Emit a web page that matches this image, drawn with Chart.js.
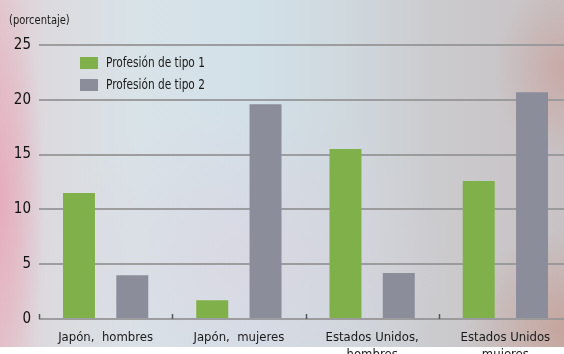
<!DOCTYPE html>
<html>
<head>
<meta charset="utf-8">
<script src="https://cdn.jsdelivr.net/npm/chart.js@4.4.1/dist/chart.umd.min.js"></script>
<style>
  html, body { margin: 0; padding: 0; background: #fff; overflow: hidden; }
  #wrap {
    position: relative;
    width: 564px;
    height: 354px;
    overflow: hidden;
  }
  #bg {
    position: absolute;
    left: 0; top: 0;
    width: 564px; height: 347px;
    background:
      radial-gradient(ellipse 45px 220px at 0px 200px, rgba(232,160,180,0.7), rgba(232,160,180,0) 100%),
      radial-gradient(ellipse 70px 90px at 564px 70px, rgba(200,140,130,0.45), rgba(200,140,130,0) 100%),
      radial-gradient(ellipse 100px 100px at 564px 330px, rgba(195,140,125,0.55), rgba(195,140,125,0) 100%),
      radial-gradient(ellipse 200px 160px at 250px 260px, rgba(225,205,220,0.45), rgba(225,205,220,0) 100%),
      linear-gradient(90deg, #e2c9d0 0%, #dcdade 8%, #d8e3e8 25%, #d2e0e8 45%, #cfd8dd 62%, #cbcacd 78%, #c8c2c4 100%);
  }
  #chart { position: absolute; left: 0; top: 0; }
</style>
</head>
<body>
<div id="wrap">
  <div id="bg"></div>
  <canvas id="chart" width="572" height="354"></canvas>
</div>
<script>
const categories = ['Japón,  hombres', 'Japón,  mujeres', ['Estados Unidos,', 'hombres'], ['Estados Unidos', 'mujeres']];
const seriesNames = ['Profesión de tipo 1', 'Profesión de tipo 2'];
const tipo1 = [11.5, 1.7, 15.5, 12.6];
const tipo2 = [4.0, 19.6, 4.2, 20.7];
const yTicks = [0, 5, 10, 15, 20, 25];
const unitLabel = '(porcentaje)';

const FONT = "'DejaVu Sans Condensed', 'Liberation Sans', sans-serif";
const GREEN = '#80b04a';
const GREY = '#8c8d9b';

// narrow text: squeeze horizontally around the anchor point
function narrowText(ctx, text, x, y, squeeze) {
  ctx.save();
  ctx.translate(x, y);
  ctx.scale(squeeze, 1);
  ctx.fillText(text, 0, 0);
  ctx.restore();
}

// legend, unit label and small category ticks drawn by hand
const decorations = {
  id: 'decorations',
  afterDatasetsDraw(chart) {
    const ctx = chart.ctx;
    const x = chart.scales.x;
    ctx.save();

    // short ticks rising from the base line at category boundaries
    const step = (x.right - x.left) / categories.length;
    ctx.strokeStyle = '#555';
    ctx.lineWidth = 1.5;
    for (let i = 0; i < categories.length; i++) {
      const px = Math.round(x.left + i * step) + 0.5;
      ctx.beginPath();
      ctx.moveTo(px, x.top - 5);
      ctx.lineTo(px, x.top);
      ctx.stroke();
    }

    ctx.fillStyle = '#1a1a1a';
    ctx.font = '13px ' + FONT;
    ctx.textBaseline = 'middle';
    ctx.textAlign = 'left';
    narrowText(ctx, unitLabel, 9, 21, 0.85);

    const colors = [GREEN, GREY];
    ctx.font = '14px ' + FONT;
    seriesNames.forEach((name, i) => {
      const y = 57 + i * 22;
      ctx.fillStyle = colors[i];
      ctx.fillRect(80, y, 18, 12);
      ctx.fillStyle = '#1a1a1a';
      narrowText(ctx, name, 106, y + 6, 0.84);
    });
    ctx.restore();
  }
};

new Chart(document.getElementById('chart'), {
  type: 'bar',
  data: {
    labels: categories,
    datasets: [{
      label: seriesNames[0],
      data: tipo1,
      backgroundColor: GREEN,
      categoryPercentage: 0.8,
      barPercentage: 0.6
    }, {
      label: seriesNames[1],
      data: tipo2,
      backgroundColor: GREY,
      categoryPercentage: 0.8,
      barPercentage: 0.6
    }]
  },
  plugins: [decorations],
  options: {
    responsive: false,
    animation: false,
    layout: {
      padding: { top: 45, left: 0, right: 0, bottom: 0 }
    },
    scales: {
      x: {
        grid: { display: false },
        border: { display: false },
        ticks: {
          color: '#1a1a1a',
          font: { family: FONT, size: 13, lineHeight: 1.3 },
          padding: 2,
          maxRotation: 0,
          autoSkip: false
        },
        afterFit(scale) { scale.height = 35; }
      },
      y: {
        min: 0,
        max: 25,
        afterBuildTicks(scale) { scale.ticks = yTicks.map(v => ({ value: v })); },
        grid: { color: 'rgba(150,150,152,0.9)', lineWidth: 2, drawTicks: false },
        border: { display: false },
        ticks: {
          color: '#111',
          font: { family: FONT, size: 15 },
          padding: 8
        },
        afterFit(scale) { scale.width = 39; }
      }
    },
    plugins: {
      legend: { display: false },
      tooltip: { enabled: false }
    }
  }
});
</script>
</body>
</html>
